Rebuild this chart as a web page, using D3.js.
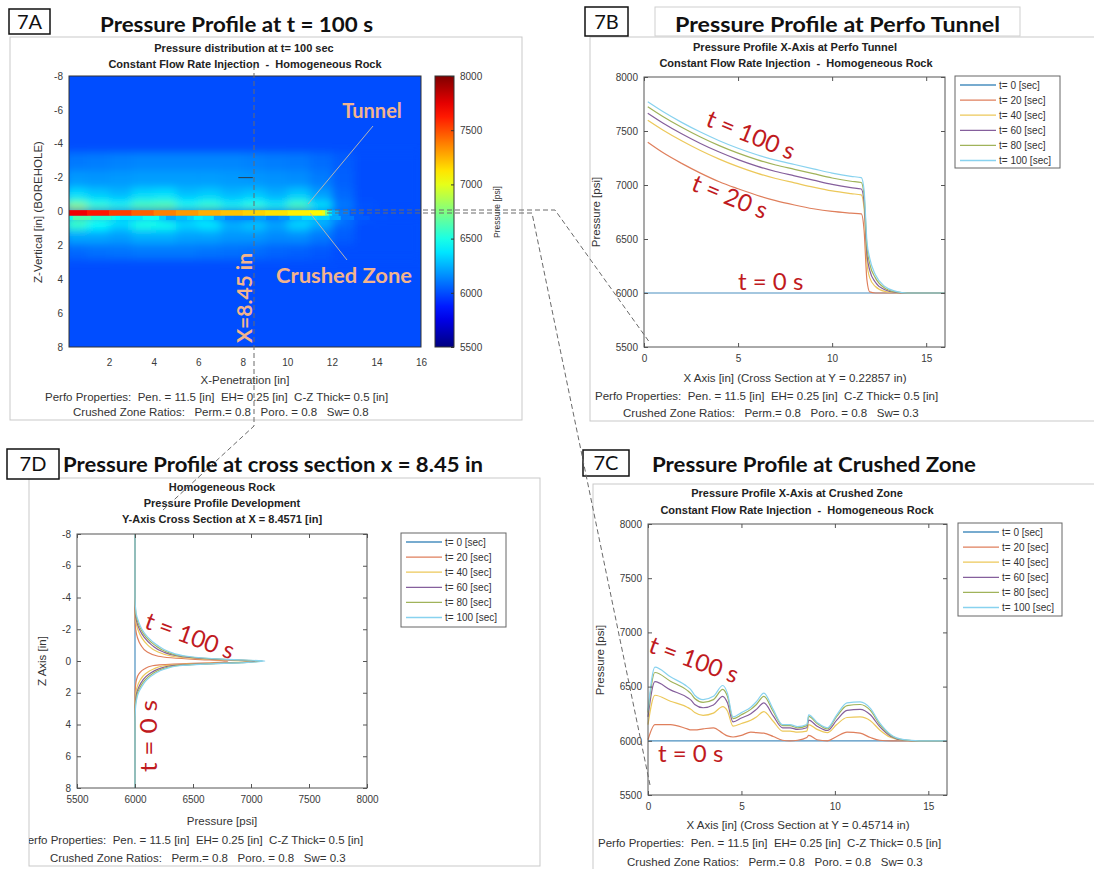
<!DOCTYPE html>
<html>
<head>
<meta charset="utf-8">
<script src="https://cdn.jsdelivr.net/npm/d3@7"></script>
<style>
  body { margin: 0; background: #fff; }
  text { white-space: pre; }
</style>
</head>
<body>
<svg id="fig" width="1094" height="869"></svg>
<script>
// ---------------- data ----------------
const times = [0, 20, 40, 60, 80, 100]
const lineColors = ['#4a8fbf', '#df7f5c', '#ecc85a', '#855f9c', '#a0b35a', '#88d2ef']

// 7B : pressure along the perfo tunnel
const tunnelX = [0.2, 1, 2, 3, 4, 5, 6, 7, 8, 9, 10, 11, 11.55, 11.7, 11.85, 12.0, 12.3, 12.8, 13.4, 14, 15, 16]
const tunnelP0 = [6000, 6000, 6000, 6000, 6000, 6000, 6000, 6000, 6000, 6000, 6000, 6000, 6000, 6000, 6000, 6000, 6000, 6000, 6000, 6000, 6000, 6000]
const tunnelP20 = [7395, 7300, 7200, 7110, 7030, 6965, 6905, 6855, 6815, 6780, 6755, 6740, 6733, 6580, 6120, 6010, 6000, 6000, 6000, 6000, 6000, 6000]
const tunnelP40 = [7600, 7510, 7410, 7320, 7240, 7170, 7110, 7060, 7020, 6980, 6945, 6920, 6908, 6780, 6280, 6140, 6060, 6015, 6003, 6000, 6000, 6000]
const tunnelP60 = [7665, 7575, 7475, 7385, 7305, 7235, 7175, 7125, 7085, 7045, 7005, 6975, 6963, 6840, 6360, 6210, 6100, 6030, 6005, 6000, 6000, 6000]
const tunnelP80 = [7725, 7635, 7535, 7445, 7365, 7295, 7235, 7185, 7145, 7105, 7065, 7035, 7023, 6900, 6430, 6270, 6140, 6045, 6010, 6000, 6000, 6000]
const tunnelP100 = [7770, 7680, 7580, 7490, 7410, 7340, 7280, 7230, 7190, 7150, 7110, 7080, 7068, 6950, 6480, 6320, 6170, 6060, 6015, 6000, 6000, 6000]

// 7C : pressure along the crushed zone
const crushX = [0, 0.37, 1.2, 2.1, 2.3, 2.5, 2.95, 3.5, 4.0, 4.25, 4.55, 5.0, 5.5, 5.8, 6.2, 6.7, 7.2, 7.6, 8.0, 8.5, 8.6, 9.05, 9.6, 10.1, 10.65, 11.35, 11.9, 12.4, 13.0, 13.7, 14.5, 16]
const crushP0 = [6000, 6000, 6000, 6000, 6000, 6000, 6000, 6000, 6000, 6000, 6000, 6000, 6000, 6000, 6000, 6000, 6000, 6000, 6000, 6000, 6000, 6000, 6000, 6000, 6000, 6000, 6000, 6000, 6000, 6000, 6000, 6000]
const crushP20 = [6010, 6150, 6150, 6110, 6100, 6100, 6110, 6120, 6070, 6045, 6035, 6050, 6080, 6075, 6070, 6040, 6005, 6000, 6005, 6030, 6050, 6010, 6000, 6040, 6080, 6070, 6030, 6005, 6000, 6000, 6000, 6000]
const crushP40 = [6150, 6420, 6365, 6310, 6290, 6260, 6235, 6255, 6315, 6275, 6135, 6160, 6190, 6220, 6270, 6180, 6090, 6090, 6080, 6090, 6150, 6105, 6075, 6150, 6215, 6220, 6185, 6100, 6030, 6003, 6000, 6000]
const crushP60 = [6220, 6545, 6470, 6400, 6375, 6335, 6305, 6330, 6410, 6350, 6175, 6210, 6250, 6290, 6350, 6230, 6120, 6120, 6105, 6120, 6190, 6135, 6095, 6190, 6280, 6290, 6240, 6130, 6040, 6005, 6000, 6000]
const crushP80 = [6260, 6630, 6550, 6465, 6435, 6390, 6355, 6380, 6475, 6410, 6205, 6240, 6290, 6335, 6410, 6270, 6140, 6140, 6120, 6140, 6225, 6160, 6110, 6225, 6325, 6335, 6280, 6150, 6050, 6008, 6000, 6000]
const crushP100 = [6280, 6680, 6590, 6500, 6470, 6420, 6380, 6410, 6510, 6440, 6220, 6260, 6310, 6360, 6440, 6290, 6150, 6150, 6130, 6150, 6240, 6170, 6120, 6240, 6350, 6360, 6300, 6165, 6055, 6010, 6000, 6000]

// 7D : vertical cross section at x = 8.45 in
const sectionZ = [-8, -4, -3, -2.5, -2, -1.5, -1, -0.6, -0.3, -0.1, 0, 0.1, 0.2, 0.3, 0.5, 0.8, 1.2, 1.6, 2, 2.5, 3, 4, 8]
const sectionP0 = [6000, 6000, 6000, 6000, 6000, 6000, 6000, 6000, 6000, 6000, 6000, 6000, 6000, 6000, 6000, 6000, 6000, 6000, 6000, 6000, 6000, 6000, 6000]
const sectionP20 = [6000, 6000, 6000, 6001, 6006, 6020, 6050, 6100, 6200, 6520, 6800, 6680, 6330, 6150, 6080, 6035, 6012, 6004, 6001, 6000, 6000, 6000, 6000]
const sectionP40 = [6000, 6000, 6001, 6007, 6024, 6055, 6110, 6190, 6320, 6650, 7000, 6820, 6460, 6250, 6160, 6090, 6045, 6020, 6007, 6002, 6000, 6000, 6000]
const sectionP60 = [6000, 6000, 6003, 6014, 6038, 6078, 6145, 6235, 6380, 6720, 7060, 6880, 6530, 6310, 6205, 6125, 6068, 6035, 6015, 6005, 6001, 6000, 6000]
const sectionP80 = [6000, 6000, 6006, 6022, 6050, 6095, 6170, 6265, 6420, 6760, 7100, 6920, 6570, 6350, 6235, 6150, 6085, 6048, 6022, 6008, 6002, 6000, 6000]
const sectionP100 = [6000, 6000, 6010, 6030, 6060, 6110, 6190, 6290, 6450, 6800, 7120, 6950, 6600, 6380, 6260, 6170, 6100, 6060, 6030, 6012, 6004, 6000, 6000]

// 7A : pressure field at t = 100 s (halo rows around the tunnel, 1 in columns)
const haloCols = [0, 1, 2, 3, 4, 5, 6, 7, 8, 9, 10, 11, 12, 13, 14, 15, 16]
const haloZ = [[-3.5, -2.4], [-2.4, -1.4], [-1.4, -0.7], [-0.7, -0.3], [-0.3, -0.08], [0.55, 1.1], [1.1, 1.9], [1.9, 2.8]]
const haloP = [
  [6110, 6120, 6130, 6140, 6140, 6140, 6140, 6140, 6130, 6120, 6110, 6080, 6040, 6000, 6000, 6000],
  [6190, 6180, 6190, 6200, 6200, 6200, 6200, 6190, 6180, 6170, 6160, 6120, 6050, 6000, 6000, 6000],
  [6350, 6300, 6260, 6340, 6360, 6280, 6310, 6260, 6290, 6240, 6300, 6200, 6070, 6000, 6000, 6000],
  [6620, 6480, 6400, 6560, 6580, 6420, 6500, 6380, 6460, 6360, 6540, 6320, 6100, 6010, 6000, 6000],
  [6950, 6700, 6620, 6720, 6750, 6620, 6680, 6580, 6660, 6560, 6700, 6480, 6140, 6020, 6000, 6000],
  [6560, 6440, 6330, 6500, 6480, 6330, 6380, 6250, 6300, 6220, 6330, 6220, 6070, 6000, 6000, 6000],
  [6220, 6220, 6200, 6240, 6240, 6210, 6210, 6180, 6180, 6150, 6160, 6110, 6040, 6000, 6000, 6000],
  [6070, 6090, 6100, 6110, 6110, 6110, 6100, 6090, 6080, 6060, 6050, 6030, 6000, 6000, 6000, 6000]
]
const fieldBase = 6000
const colorTicks = [5500, 6000, 6500, 7000, 7500, 8000]

// tick labels
const pTicks = [5500, 6000, 6500, 7000, 7500, 8000]
const xTicksA = [2, 4, 6, 8, 10, 12, 14, 16]
const zTicks = [-8, -6, -4, -2, 0, 2, 4, 6, 8]
const xTicksBC = [0, 5, 10, 15]

const perfoLine = 'Perfo Properties:  Pen. = 11.5 [in]  EH= 0.25 [in]  C-Z Thick= 0.5 [in]'
const ratioLineA = 'Crushed Zone Ratios:   Perm.= 0.8   Poro. = 0.8   Sw= 0.8'
const ratioLine = 'Crushed Zone Ratios:   Perm.= 0.8   Poro. = 0.8   Sw= 0.3'

// ---------------- helpers ----------------
const FONT = '"Liberation Sans", Arial, sans-serif'
const HEAD = 'Lato, "Open Sans", sans-serif'
const RED = '#c01a1e'
const svg = d3.select('#fig')
svg.append('rect').attr('width', 1094).attr('height', 869).attr('fill', '#fff')
const defs = svg.append('defs')

const jet = t => {
  const c = v => Math.max(0, Math.min(1, v))
  return d3.rgb(255 * c(1.5 - Math.abs(4 * t - 3)), 255 * c(1.5 - Math.abs(4 * t - 2)), 255 * c(1.5 - Math.abs(4 * t - 1))).formatHex()
}
const colorP = d3.scaleSequential(jet).domain([5500, 8000])

function txt(g, x, y, s, o = {}) {
  const t = g.append('text').attr('x', x).attr('y', y).text(s)
    .attr('font-family', o.family || FONT).attr('font-size', o.size || 11)
    .attr('font-weight', o.weight || 'normal').attr('fill', o.fill || '#222')
    .attr('text-anchor', o.anchor || 'start')
  if (o.rotate) t.attr('transform', `rotate(${o.rotate},${x},${y})`)
  if (o.length) t.attr('textLength', o.length).attr('lengthAdjust', 'spacingAndGlyphs')
  if (o.middle) t.attr('dominant-baseline', 'middle')
  return t
}

function boxAxes(g, x, y, xTicks, yTicks) {
  const [xa, xb] = x.range()
  const ya = Math.min(...y.range()), yb = Math.max(...y.range())
  const put = (axis, tr, labels) => {
    const a = g.append('g').attr('transform', tr).call(axis)
    a.select('.domain').remove()
    a.selectAll('line').attr('stroke', '#555')
    a.selectAll('text').attr('fill', '#3a3a3a').attr('font-size', 10).attr('font-family', FONT)
    if (!labels) a.selectAll('text').remove()
  }
  put(d3.axisBottom(x).tickValues(xTicks).tickSize(-4).tickPadding(8).tickFormat(d => String(d)), `translate(0,${yb})`, true)
  put(d3.axisTop(x).tickValues(xTicks).tickSize(-4), `translate(0,${ya})`, false)
  put(d3.axisLeft(y).tickValues(yTicks).tickSize(-4).tickPadding(6).tickFormat(d => String(d)), `translate(${xa},0)`, true)
  put(d3.axisRight(y).tickValues(yTicks).tickSize(-4), `translate(${xb},0)`, false)
  g.append('rect').attr('x', xa).attr('y', ya).attr('width', xb - xa).attr('height', yb - ya)
    .attr('fill', 'none').attr('stroke', '#555').attr('stroke-width', 1)
}

function legend(g, x0, y0, w, h) {
  g.append('rect').attr('x', x0).attr('y', y0).attr('width', w).attr('height', h)
    .attr('fill', '#fff').attr('stroke', '#666')
  times.forEach((t, i) => {
    const yy = y0 + 9 + i * 15.1
    g.append('line').attr('x1', x0 + 5).attr('x2', x0 + 41).attr('y1', yy).attr('y2', yy)
      .attr('stroke', lineColors[i]).attr('stroke-width', 1.3)
    txt(g, x0 + 44, yy + 3.5, `t= ${t} [sec]`, { size: 10, fill: '#333' })
  })
}

function labelBox(x, y, w, h, s) {
  svg.append('rect').attr('x', x).attr('y', y).attr('width', w).attr('height', h)
    .attr('fill', '#fff').attr('stroke', '#111').attr('stroke-width', 1.5)
  txt(svg, x + w / 2, y + h / 2 + 7, s, { family: HEAD, size: 20, anchor: 'middle', fill: '#111' })
}

function frame(x, y, w, h) {
  svg.append('rect').attr('x', x).attr('y', y).attr('width', w).attr('height', h)
    .attr('fill', 'none').attr('stroke', '#c9c9c9')
}

function curves(g, line, xsList, ysList) {
  ysList.forEach((ys, i) => {
    const pts = xsList.map((v, j) => [v, ys[j]])
    g.append('path').datum(pts).attr('d', line).attr('fill', 'none')
      .attr('stroke', lineColors[i]).attr('stroke-width', 1.2)
  })
}

// ---------------- panel frames & headings ----------------
frame(10, 37, 512, 383)
frame(590, 37, 520, 384)
frame(29, 478, 511, 388)
frame(593, 484, 520, 400)

labelBox(9, 9, 41, 25, '7A')
txt(svg, 100, 32, 'Pressure Profile at t = 100 s', { family: HEAD, size: 21, weight: 'bold', fill: '#111', length: 273 })
labelBox(585, 7, 43, 29, '7B')
svg.append('rect').attr('x', 655).attr('y', 7).attr('width', 365).attr('height', 29).attr('fill', 'none').attr('stroke', '#cfcfcf')
txt(svg, 675, 32, 'Pressure Profile at Perfo Tunnel', { family: HEAD, size: 21, weight: 'bold', fill: '#111', length: 325 })
labelBox(7, 449, 52, 30, '7D')
txt(svg, 63, 472, 'Pressure Profile at cross section x = 8.45 in', { family: HEAD, size: 21, weight: 'bold', fill: '#111', length: 420 })
labelBox(583, 450, 46, 26, '7C')
txt(svg, 652, 472, 'Pressure Profile at Crushed Zone', { family: HEAD, size: 21, weight: 'bold', fill: '#111', length: 324 })

// ---------------- 7A heat map ----------------
const gA = svg.append('g')
const hx = d3.scaleLinear().domain([0.2, 16]).range([69, 421])
const hy = d3.scaleLinear().domain([-8, 8]).range([76, 347])
defs.append('clipPath').attr('id', 'clipA').append('rect')
  .attr('x', 69).attr('y', 76).attr('width', 352).attr('height', 271)
defs.append('filter').attr('id', 'blurBig').attr('x', '-20%').attr('y', '-20%').attr('width', '140%').attr('height', '140%')
  .append('feGaussianBlur').attr('stdDeviation', 4)
defs.append('filter').attr('id', 'blurSmall').append('feGaussianBlur').attr('stdDeviation', 0.6)

const field = gA.append('g').attr('clip-path', 'url(#clipA)')
field.append('rect').attr('x', 69).attr('y', 76).attr('width', 352).attr('height', 271).attr('fill', colorP(fieldBase))

function bandCells(g, xs, ps, z0, z1) {
  for (let i = 0; i < xs.length - 1; i++) {
    g.append('rect').attr('x', hx(xs[i])).attr('width', hx(xs[i + 1]) - hx(xs[i]) + 0.5)
      .attr('y', hy(z0)).attr('height', hy(z1) - hy(z0))
      .attr('fill', colorP((ps[i] + ps[i + 1]) / 2))
  }
}
const halo = field.append('g').attr('filter', 'url(#blurBig)')
haloZ.forEach((zz, r) => {
  haloP[r].forEach((p, c) => {
    halo.append('rect').attr('x', hx(haloCols[c])).attr('width', hx(haloCols[c + 1]) - hx(haloCols[c]) + 0.5)
      .attr('y', hy(zz[0])).attr('height', hy(zz[1]) - hy(zz[0]) + 0.5).attr('fill', colorP(p))
  })
})
bandCells(halo, crushX, crushP100, 0.25, 0.55)
const bands = field.append('g').attr('filter', 'url(#blurSmall)')
bandCells(bands, crushX, crushP100, 0.25, 0.5)
bandCells(bands, tunnelX, tunnelP100, -0.08, 0.25)

const axA = gA.append('g')
axA.append('g').attr('transform', 'translate(0,347)')
  .call(d3.axisBottom(hx).tickValues(xTicksA).tickSize(0).tickPadding(12))
axA.append('g').attr('transform', 'translate(69,0)')
  .call(d3.axisLeft(hy).tickValues(zTicks).tickSize(0).tickPadding(6).tickFormat(d => String(d)))
axA.selectAll('.domain').remove()
axA.selectAll('text').attr('fill', '#3a3a3a').attr('font-size', 10).attr('font-family', FONT)
gA.append('rect').attr('x', 69).attr('y', 76).attr('width', 352).attr('height', 271).attr('fill', 'none').attr('stroke', '#333')

// colour bar
const cb = d3.scaleLinear().domain([5500, 8000]).range([347, 76])
const grad = defs.append('linearGradient').attr('id', 'jetGrad').attr('x1', 0).attr('y1', 1).attr('x2', 0).attr('y2', 0)
d3.range(0, 1.0001, 0.05).forEach(t => grad.append('stop').attr('offset', t).attr('stop-color', jet(t)))
gA.append('rect').attr('x', 435).attr('y', 76).attr('width', 19).attr('height', 271).attr('fill', 'url(#jetGrad)').attr('stroke', '#333')
const cbAxis = gA.append('g').attr('transform', 'translate(454,0)')
  .call(d3.axisRight(cb).tickValues(colorTicks).tickSize(-3).tickPadding(6).tickFormat(d => String(d)))
cbAxis.select('.domain').remove()
cbAxis.selectAll('line').attr('stroke', '#333')
cbAxis.selectAll('text').attr('fill', '#3a3a3a').attr('font-size', 10).attr('font-family', FONT)
txt(gA, 500, 212, 'Pressure [psi]', { size: 8.5, anchor: 'middle', rotate: -90, fill: '#333' })

txt(gA, 244, 52, 'Pressure distribution at t= 100 sec', { weight: 'bold', anchor: 'middle' })
txt(gA, 245, 68, 'Constant Flow Rate Injection  -  Homogeneous Rock', { weight: 'bold', anchor: 'middle' })
txt(gA, 245, 384, 'X-Penetration [in]', { size: 11.5, anchor: 'middle', fill: '#333' })
txt(gA, 42, 212, 'Z-Vertical [in] (BOREHOLE)', { size: 11.5, anchor: 'middle', rotate: -90, fill: '#333' })
txt(gA, 45, 401, perfoLine, { size: 11.5, fill: '#333' })
txt(gA, 73, 416, ratioLineA, { size: 11.5, fill: '#333' })

// annotations on the heat map
const PEACH = '#f2b48d'
txt(gA, 372, 118, 'Tunnel', { family: HEAD, size: 20, weight: 'bold', anchor: 'middle', fill: PEACH })
txt(gA, 344, 283, 'Crushed Zone', { family: HEAD, size: 20, weight: 'bold', anchor: 'middle', fill: PEACH, length: 136 })
txt(gA, 252, 298, 'X=8.45 in', { family: HEAD, size: 20, weight: 'bold', anchor: 'middle', fill: PEACH, rotate: -90, length: 90 })
gA.append('line').attr('x1', 373).attr('y1', 126).attr('x2', 308).attr('y2', 204).attr('stroke', '#b4b4b4')
gA.append('line').attr('x1', 347).attr('y1', 260).attr('x2', 310).attr('y2', 213).attr('stroke', '#b4b4b4')
gA.append('line').attr('x1', hx(7.8)).attr('x2', hx(8.45)).attr('y1', hy(-2)).attr('y2', hy(-2)).attr('stroke', '#2b3b4b')

// ---------------- 7B tunnel profile ----------------
const gB = svg.append('g')
const bx = d3.scaleLinear().domain([0, 16]).range([644, 945])
const by = d3.scaleLinear().domain([5500, 8000]).range([347, 77])
const lineB = d3.line().x(d => bx(d[0])).y(d => by(d[1])).curve(d3.curveMonotoneX)
curves(gB, lineB, tunnelX, [tunnelP0, tunnelP20, tunnelP40, tunnelP60, tunnelP80, tunnelP100])
gB.append('path').datum([[0, 6000], [0.2, 6000]]).attr('d', lineB).attr('stroke', lineColors[0]).attr('stroke-width', 1.2)
boxAxes(gB, bx, by, xTicksBC, pTicks)
legend(gB, 955, 76, 105, 92)
txt(gB, 795, 51, 'Pressure Profile X-Axis at Perfo Tunnel', { weight: 'bold', anchor: 'middle' })
txt(gB, 796, 67, 'Constant Flow Rate Injection  -  Homogeneous Rock', { weight: 'bold', anchor: 'middle' })
txt(gB, 795, 382, 'X Axis [in] (Cross Section at Y = 0.22857 in)', { size: 11.5, anchor: 'middle', fill: '#333' })
txt(gB, 600, 212, 'Pressure [psi]', { size: 11.5, anchor: 'middle', rotate: -90, fill: '#333' })
txt(gB, 595, 400, perfoLine, { size: 11.5, fill: '#333' })
txt(gB, 623, 417, ratioLine, { size: 11.5, fill: '#333' })
txt(gB, 750, 137, 't = 100 s', { family: HEAD, size: 24, anchor: 'middle', fill: RED, rotate: 22, middle: true })
txt(gB, 729, 199, 't = 20 s', { family: HEAD, size: 24, anchor: 'middle', fill: RED, rotate: 22, middle: true })
txt(gB, 738, 290, 't = 0 s', { family: HEAD, size: 24, fill: RED })

// ---------------- 7C crushed zone profile ----------------
const gC = svg.append('g')
const cx = d3.scaleLinear().domain([0, 16]).range([648, 947])
const cy = d3.scaleLinear().domain([5500, 8000]).range([795, 524])
const lineC = d3.line().x(d => cx(d[0])).y(d => cy(d[1])).curve(d3.curveMonotoneX)
curves(gC, lineC, crushX, [crushP0, crushP20, crushP40, crushP60, crushP80, crushP100])
boxAxes(gC, cx, cy, xTicksBC, pTicks)
legend(gC, 958, 523, 104, 93)
txt(gC, 797, 497, 'Pressure Profile X-Axis at Crushed Zone', { weight: 'bold', anchor: 'middle' })
txt(gC, 797, 514, 'Constant Flow Rate Injection  -  Homogeneous Rock', { weight: 'bold', anchor: 'middle' })
txt(gC, 798, 829, 'X Axis [in] (Cross Section at Y = 0.45714 in)', { size: 11.5, anchor: 'middle', fill: '#333' })
txt(gC, 604, 660, 'Pressure [psi]', { size: 11.5, anchor: 'middle', rotate: -90, fill: '#333' })
txt(gC, 598, 847, perfoLine, { size: 11.5, fill: '#333' })
txt(gC, 627, 866, ratioLine, { size: 11.5, fill: '#333' })
txt(gC, 693, 662, 't = 100 s', { family: HEAD, size: 24, anchor: 'middle', fill: RED, rotate: 20, middle: true })
txt(gC, 658, 762, 't = 0 s', { family: HEAD, size: 24, fill: RED })

// ---------------- 7D cross section ----------------
defs.append('clipPath').attr('id', 'clipD').append('rect').attr('x', 29).attr('y', 478).attr('width', 511).attr('height', 391)
const gD = svg.append('g').attr('clip-path', 'url(#clipD)')
const dx = d3.scaleLinear().domain([5500, 8000]).range([77, 367])
const dy = d3.scaleLinear().domain([-8, 8]).range([534, 788])
const lineD = d3.line().x(d => dx(d[1])).y(d => dy(d[0])).curve(d3.curveMonotoneY)
curves(gD, lineD, sectionZ, [sectionP0, sectionP20, sectionP40, sectionP60, sectionP80, sectionP100])
boxAxes(gD, dx, dy, pTicks, zTicks)
legend(gD, 401, 533, 105, 94)
txt(gD, 222, 491, 'Homogeneous Rock', { weight: 'bold', anchor: 'middle' })
txt(gD, 222, 507, 'Pressure Profile Development', { weight: 'bold', anchor: 'middle' })
txt(gD, 222, 523, 'Y-Axis Cross Section at X = 8.4571 [in]', { weight: 'bold', anchor: 'middle' })
txt(gD, 222, 825, 'Pressure [psi]', { size: 11.5, anchor: 'middle', fill: '#333' })
txt(gD, 46, 661, 'Z Axis [in]', { size: 11.5, anchor: 'middle', rotate: -90, fill: '#333' })
txt(gD, 20, 844, perfoLine, { size: 11.5, fill: '#333' })
txt(gD, 50, 862, ratioLine, { size: 11.5, fill: '#333' })
txt(gD, 189, 638, 't = 100 s', { family: HEAD, size: 24, anchor: 'middle', fill: RED, rotate: 20, middle: true })
txt(gD, 151, 736, 't = 0 s', { family: HEAD, size: 24, anchor: 'middle', fill: RED, rotate: -90, middle: true, length: 72 })

// ---------------- connecting dashed guides ----------------
const guide = d3.line()
const guides = [
  [[254, 65], [254, 426], [163, 510]],
  [[327, 210], [555, 210], [650, 343]],
  [[327, 213], [532, 213], [650, 785]]
]
guides.forEach(pts => svg.append('path').attr('d', guide(pts)).attr('fill', 'none')
  .attr('stroke', '#6a6a6a').attr('stroke-width', 1).attr('stroke-dasharray', '5,3'))
</script>
</body>
</html>
